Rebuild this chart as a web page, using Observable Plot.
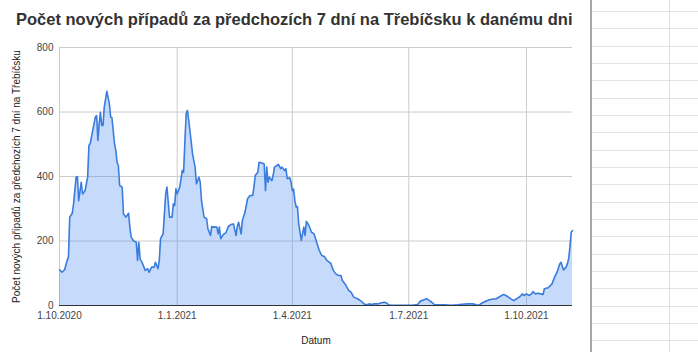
<!DOCTYPE html>
<html>
<head>
<meta charset="utf-8">
<script src="https://cdn.jsdelivr.net/npm/d3@7"></script>
<script src="https://cdn.jsdelivr.net/npm/@observablehq/plot@0.6"></script>
<style>
  html, body { margin: 0; padding: 0; background: #fff; }
  #wrap { position: relative; width: 698px; height: 352px; overflow: hidden; font-family: Arial, "Liberation Sans", sans-serif; }
  #title { position: absolute; left: 16px; top: 10px; font-size: 16.5px; font-weight: bold; color: #333; white-space: nowrap; }
  #chart { position: absolute; left: 0; top: 0; }
  .sheet { position: absolute; }
</style>
</head>
<body>
<div id="wrap">
  <div id="chart"></div>
  <div id="title">Počet nových případů za předchozích 7 dní na Třebíčsku k danému dni</div>
</div>
<script>
const titleText = "Počet nových případů za předchozích 7 dní na Třebíčsku k danému dni";
const yLabel = "Počet nových případů za předchozích 7 dní na Třebíčsku";
const xLabel = "Datum";

const dates = [
  "2020-10-01","2020-10-03","2020-10-05","2020-10-07","2020-10-08","2020-10-09","2020-10-11","2020-10-12","2020-10-14","2020-10-15",
  "2020-10-16","2020-10-18","2020-10-19","2020-10-21","2020-10-23","2020-10-24","2020-10-25","2020-10-27","2020-10-28","2020-10-29",
  "2020-10-30","2020-10-31","2020-11-01","2020-11-02","2020-11-03","2020-11-04","2020-11-05","2020-11-07","2020-11-09","2020-11-10",
  "2020-11-11","2020-11-13","2020-11-14","2020-11-15","2020-11-16","2020-11-17","2020-11-19","2020-11-20","2020-11-22","2020-11-24",
  "2020-11-25","2020-11-26","2020-11-28","2020-11-30","2020-12-01","2020-12-02","2020-12-03","2020-12-05","2020-12-07","2020-12-09",
  "2020-12-10","2020-12-12","2020-12-14","2020-12-15","2020-12-17","2020-12-18","2020-12-19","2020-12-21","2020-12-23","2020-12-24",
  "2020-12-26","2020-12-28","2020-12-29","2020-12-30","2020-12-31","2021-01-01","2021-01-03","2021-01-05","2021-01-06","2021-01-07",
  "2021-01-08","2021-01-09","2021-01-10","2021-01-12","2021-01-13","2021-01-15","2021-01-16","2021-01-18","2021-01-19","2021-01-20",
  "2021-01-22","2021-01-24","2021-01-25","2021-01-27","2021-01-28","2021-01-30","2021-02-01","2021-02-02","2021-02-03","2021-02-04",
  "2021-02-06","2021-02-08","2021-02-10","2021-02-12","2021-02-14","2021-02-16","2021-02-17","2021-02-18","2021-02-20","2021-02-21",
  "2021-02-23","2021-02-25","2021-02-27","2021-03-01","2021-03-02","2021-03-03","2021-03-05","2021-03-06","2021-03-09","2021-03-10",
  "2021-03-11","2021-03-12","2021-03-13","2021-03-14","2021-03-16","2021-03-17","2021-03-18","2021-03-20","2021-03-21","2021-03-23",
  "2021-03-24","2021-03-26","2021-03-27","2021-03-28","2021-03-30","2021-03-31","2021-04-01","2021-04-02","2021-04-03","2021-04-04",
  "2021-04-05","2021-04-06","2021-04-08","2021-04-10","2021-04-11","2021-04-12","2021-04-14","2021-04-16","2021-04-18","2021-04-20",
  "2021-04-22","2021-04-24","2021-04-26","2021-04-28","2021-04-30","2021-05-01","2021-05-03","2021-05-05","2021-05-07","2021-05-09",
  "2021-05-10","2021-05-13","2021-05-15","2021-05-17","2021-05-19","2021-05-22","2021-05-25","2021-05-27","2021-05-29","2021-05-31",
  "2021-06-02","2021-06-04","2021-06-07","2021-06-09","2021-06-12","2021-06-14","2021-06-15","2021-06-17","2021-06-21","2021-06-25",
  "2021-06-30","2021-07-04","2021-07-08","2021-07-10","2021-07-13","2021-07-15","2021-07-16","2021-07-19","2021-07-21","2021-07-24",
  "2021-07-29","2021-08-03","2021-08-08","2021-08-12","2021-08-16","2021-08-20","2021-08-23","2021-08-25","2021-08-27","2021-08-31",
  "2021-09-02","2021-09-05","2021-09-07","2021-09-10","2021-09-13","2021-09-15","2021-09-18","2021-09-21","2021-09-23","2021-09-26",
  "2021-09-28","2021-09-29","2021-10-01","2021-10-03","2021-10-05","2021-10-06","2021-10-08","2021-10-10","2021-10-12","2021-10-14",
  "2021-10-15","2021-10-18","2021-10-21","2021-10-23","2021-10-25","2021-10-27","2021-10-28","2021-10-30","2021-11-01","2021-11-02",
  "2021-11-03","2021-11-04","2021-11-05","2021-11-06"
];
const cases = [
  111,103,111,140,150,274,286,315,398,400,
  325,382,346,356,398,496,502,543,563,584,
  589,512,563,599,558,558,615,664,625,584,
  582,502,481,444,434,372,367,284,274,286,
  243,212,200,196,140,196,145,129,109,114,
  103,119,119,134,114,140,207,222,346,367,
  274,274,315,310,362,346,367,419,413,506,
  594,605,574,506,470,429,377,398,382,325,
  274,269,238,217,245,243,243,222,243,207,
  220,225,245,251,253,217,245,258,222,264,
  289,331,341,341,367,403,413,444,441,438,
  356,429,382,398,387,403,429,434,438,424,
  429,418,424,393,396,382,356,361,325,305,
  307,253,202,243,217,261,248,227,222,196,
  171,155,152,140,134,131,109,98,93,93,
  78,62,47,41,26,21,13,5,2,5,
  3,5,5,8,10,7,2,1,1,1,
  1,1,3,13,18,21,18,10,3,2,
  2,1,2,4,5,5,2,1,7,15,
  18,20,20,27,34,31,23,15,20,28,
  36,31,36,31,36,43,36,38,36,34,
  52,55,67,88,104,129,134,110,119,129,
  145,181,227,232
];
const xTicks = ["2020-10-01","2021-01-01","2021-04-01","2021-07-01","2021-10-01"];
const yTicks = [0, 200, 400, 600, 800];
const xDomain = ["2020-10-01", "2021-11-06"];

const parse = d3.utcParse("%Y-%m-%d");
const data = dates.map((d, i) => ({date: parse(d), value: cases[i]}));
const tickDates = xTicks.map(parse);
const fmt = d => `${d.getUTCDate()}.${d.getUTCMonth() + 1}.${d.getUTCFullYear()}`;

const chart = Plot.plot({
  width: 698,
  height: 352,
  marginLeft: 59,
  marginRight: 126,
  marginTop: 47,
  marginBottom: 47,
  style: {fontFamily: "Arial, 'Liberation Sans', sans-serif", fontSize: "10px", background: "transparent"},
  x: {type: "utc", domain: xDomain.map(parse)},
  y: {domain: [0, 800]},
  marks: [
    Plot.gridY(yTicks.filter(v => v > 0), {stroke: "#cccccc", strokeOpacity: 1}),
    Plot.gridX(tickDates, {stroke: "#cccccc", strokeOpacity: 1}),
    Plot.areaY(data, {x: "date", y: "value", fill: "#4285f4", fillOpacity: 0.3}),
    Plot.lineY(data, {x: "date", y: "value", stroke: "#3b7ddd", strokeWidth: 1.6}),
    Plot.ruleY([0], {stroke: "#333333", strokeWidth: 1}),
    Plot.axisX(tickDates, {tickSize: 0, tickPadding: 6, tickFormat: fmt, fill: "#444", fontSize: 10,
      label: xLabel, labelAnchor: "center", labelArrow: "none", labelOffset: 38}),
    Plot.axisY(yTicks, {tickSize: 0, tickPadding: 6, fill: "#444", fontSize: 10,
      label: yLabel, labelAnchor: "center", labelArrow: "none", labelOffset: 47})
  ]
});
document.getElementById("chart").appendChild(chart);
d3.select(chart).selectAll("[aria-label='x-axis label'] text, [aria-label='y-axis label'] text").attr("fill", "#222");

// spreadsheet grid beside the chart
const wrap = document.getElementById("wrap");
function addDiv(css) { const d = document.createElement("div"); d.className = "sheet"; Object.assign(d.style, css); wrap.appendChild(d); }
for (let k = 0; k < 21; k++) {
  addDiv({left: "591px", top: (11 + k * 17.33) + "px", width: "107px", height: "1px", background: "#e3e3e3"});
}
addDiv({left: "669px", top: "0px", width: "1px", height: "352px", background: "#e0e0e0"});
addDiv({left: "590px", top: "0px", width: "2px", height: "352px", background: "#a8a8a8"});
</script>
</body>
</html>
